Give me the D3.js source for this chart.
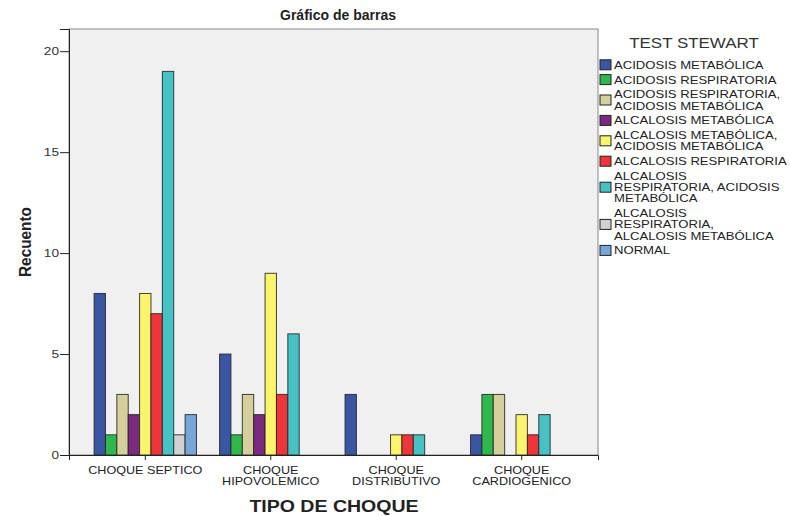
<!DOCTYPE html>
<meta charset="utf-8">
<style>
body { margin: 0; background: #fff; }
text { font-family: "Liberation Sans", Arial, sans-serif; }
</style>
<svg width="790" height="516"></svg>
<script src="https://cdnjs.cloudflare.com/ajax/libs/d3/7.8.5/d3.min.js"></script>
<script>
"use strict";

// data
var categories = ["CHOQUE SEPTICO", "CHOQUE HIPOVOLEMICO", "CHOQUE DISTRIBUTIVO", "CHOQUE CARDIOGENICO"];
var categoryLines = [["CHOQUE SEPTICO"], ["CHOQUE", "HIPOVOLEMICO"], ["CHOQUE", "DISTRIBUTIVO"], ["CHOQUE", "CARDIOGENICO"]];
var series = [
  "ACIDOSIS METABÓLICA",
  "ACIDOSIS RESPIRATORIA",
  "ACIDOSIS RESPIRATORIA, ACIDOSIS METABÓLICA",
  "ALCALOSIS METABÓLICA",
  "ALCALOSIS METABÓLICA, ACIDOSIS METABÓLICA",
  "ALCALOSIS RESPIRATORIA",
  "ALCALOSIS RESPIRATORIA, ACIDOSIS METABÓLICA",
  "ALCALOSIS RESPIRATORIA, ALCALOSIS METABÓLICA",
  "NORMAL"
];
var seriesLines = [
  ["ACIDOSIS METABÓLICA"],
  ["ACIDOSIS RESPIRATORIA"],
  ["ACIDOSIS RESPIRATORIA,", "ACIDOSIS METABÓLICA"],
  ["ALCALOSIS METABÓLICA"],
  ["ALCALOSIS METABÓLICA,", "ACIDOSIS METABÓLICA"],
  ["ALCALOSIS RESPIRATORIA"],
  ["ALCALOSIS", "RESPIRATORIA, ACIDOSIS", "METABÓLICA"],
  ["ALCALOSIS", "RESPIRATORIA,", "ALCALOSIS METABÓLICA"],
  ["NORMAL"]
];
var colors = ["#3b55a5", "#2fb84c", "#d4cf9b", "#7b2a80", "#fbf56e", "#ef343a", "#46c1c4", "#d1d1d1", "#77a6d8"];
// counts per category, in series order
var septico      = [8, 1, 3, 2, 8, 7, 19, 1, 2];
var hipovolemico = [5, 1, 3, 2, 9, 3, 6, 0, 0];
var distributivo = [3, 0, 0, 0, 1, 1, 1, 0, 0];
var cardiogenico = [1, 3, 3, 0, 2, 1, 2, 0, 0];
var counts = [septico, hipovolemico, distributivo, cardiogenico];
var yTicks = [0, 5, 10, 15, 20];

var svg = d3.select("svg");
var pLeft = 69, pRight = 598, pTop = 29, pBottom = 455;

// the original export renders its text wider than Arial, stretch it
function stretch(sel, k) {
  sel.each(function() {
    var w = this.getComputedTextLength();
    this.setAttribute("textLength", w * k);
    this.setAttribute("lengthAdjust", "spacingAndGlyphs");
  });
}

var x = d3.scaleBand().domain(categories).range([pLeft, pRight])
    .paddingInner(0.184).paddingOuter(0.2);
var xs = d3.scaleBand().domain(series).range([0, x.bandwidth()]);
var y = d3.scaleLinear().domain([0, 21.1]).range([pBottom, pTop]);

svg.append("rect")
    .attr("x", pLeft).attr("y", pTop)
    .attr("width", pRight - pLeft).attr("height", pBottom - pTop)
    .attr("fill", "#f0f0f0").attr("stroke", "#888");

var groups = svg.append("g").selectAll("g")
  .data(categories)
  .enter().append("g")
    .attr("transform", function(d) { return "translate(" + x(d) + ",0)"; });

groups.selectAll("rect")
  .data(function(d, i) {
    return series.map(function(s, j) { return {s: s, v: counts[i][j], c: colors[j]}; })
      .filter(function(e) { return e.v > 0; });
  })
  .enter().append("rect")
    .attr("x", function(d) { return xs(d.s); })
    .attr("y", function(d) { return y(d.v); })
    .attr("width", xs.bandwidth())
    .attr("height", function(d) { return pBottom - y(d.v); })
    .attr("fill", function(d) { return d.c; })
    .attr("stroke", "#222")
    .attr("stroke-opacity", 0.85)
    .attr("stroke-width", 1);

// y axis
var yAxis = svg.append("g")
    .attr("transform", "translate(" + pLeft + ",0)")
    .call(d3.axisLeft(y).tickValues(yTicks).tickSize(9).tickPadding(1));
yAxis.select(".domain").attr("stroke", "#222");
yAxis.selectAll("line").attr("stroke", "#222");
yAxis.selectAll("text").attr("font-size", 10.5).attr("fill", "#333")
    .attr("font-family", "Liberation Sans, Arial, sans-serif");
stretch(yAxis.selectAll("text"), 1.3);

// x axis
var xAxis = svg.append("g")
    .attr("transform", "translate(0," + pBottom + ")")
    .call(d3.axisBottom(x).tickSize(5).tickFormat(""));
xAxis.select(".domain").attr("stroke", "#222");
xAxis.selectAll("line").attr("stroke", "#222");
xAxis.selectAll("text").remove();
categoryLines.forEach(function(lines, i) {
  var cx = x(categories[i]) + x.bandwidth() / 2;
  var t = svg.append("text")
      .attr("text-anchor", "middle")
      .attr("font-size", 10.5).attr("fill", "#222");
  lines.forEach(function(l, k) {
    t.append("tspan").attr("x", cx).attr("y", 474 + k * 10.7).text(l);
  });
  stretch(t.selectAll("tspan"), 1.2);
});

// titles
svg.append("text").attr("x", 338).attr("y", 20).attr("text-anchor", "middle")
    .attr("font-size", 14).attr("font-weight", "bold").attr("fill", "#222").text("Gráfico de barras");
stretch(svg.append("text").attr("x", 334).attr("y", 511.5).attr("text-anchor", "middle")
    .attr("font-size", 16).attr("font-weight", "bold").attr("fill", "#222").text("TIPO DE CHOQUE"), 1.22);
stretch(svg.append("text").attr("transform", "translate(31,242) rotate(-90)").attr("text-anchor", "middle")
    .attr("font-size", 16).attr("font-weight", "bold").attr("fill", "#222").text("Recuento"), 0.96);

// legend
var legend = svg.append("g");
stretch(legend.append("text").attr("x", 694).attr("y", 48.3).attr("text-anchor", "middle")
    .attr("font-size", 15).attr("fill", "#333").text("TEST STEWART"), 1.13);
var lineH = 11.2, itemStep = 14.8;
var lineY = 64.8;
seriesLines.forEach(function(lines, i) {
  var mid = lineY + (lines.length - 1) * lineH / 2;
  legend.append("rect").attr("x", 600).attr("y", mid - 5).attr("width", 11).attr("height", 10)
      .attr("fill", colors[i]).attr("stroke", "#222");
  var t = legend.append("text").attr("font-size", 11).attr("fill", "#222");
  lines.forEach(function(l, k) {
    t.append("tspan").attr("x", 614).attr("y", lineY + 4 + k * lineH).text(l);
  });
  stretch(t.selectAll("tspan"), 1.19);
  lineY += (lines.length - 1) * lineH + itemStep;
});
</script>
